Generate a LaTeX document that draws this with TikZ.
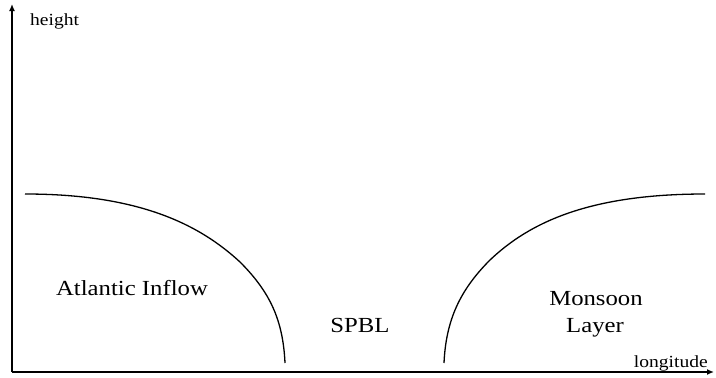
\documentclass[tikz,border=0pt]{standalone}
\usepackage{fontspec}
\setmainfont{Liberation Serif}
\newfontfamily\widefont[FakeStretch=1.15]{Liberation Serif}
\usetikzlibrary{arrows.meta}
\begin{document}
\begin{tikzpicture}[x=1pt,y=-1pt,
  axis/.style={line width=1.4pt,-{Latex[length=7pt,width=6pt]}},
  curve/.style={line width=1.3pt},
  lbl/.style={font=\widefont\fontsize{21.5}{27}\selectfont, inner sep=0pt},
  axlbl/.style={font=\widefont\fontsize{17}{20}\selectfont, inner sep=0pt}]
\useasboundingbox (0,0) rectangle (716,378);
\coordinate (o) at (12,372);
\coordinate (ytop) at (12,4);
\coordinate (xend) at (714,372);
\draw[axis] (o) -- (ytop);
\draw[axis] (o) -- (xend);
\node[axlbl, anchor=base west] (h) at (30,25) {height};
\node[axlbl, anchor=base east] (lon) at (708,367) {longitude};
\draw[curve] (25,194) .. controls (140,194) and (200,225) .. (240,262)
  .. controls (270,292) and (283,320) .. (285,363);
\draw[curve] (444,363) .. controls (446,320) and (460,290) .. (490,260)
  .. controls (530,222) and (590,194) .. (705,194);
\node[lbl, anchor=base] (ai) at (132,295) {Atlantic Inflow};
\node[lbl, anchor=base] (spbl) at (360,332) {SPBL};
\node[lbl, anchor=base] (mo) at (596,305) {Monsoon};
\node[lbl, anchor=base] (la) at (595,332) {Layer};
\end{tikzpicture}
\end{document}
